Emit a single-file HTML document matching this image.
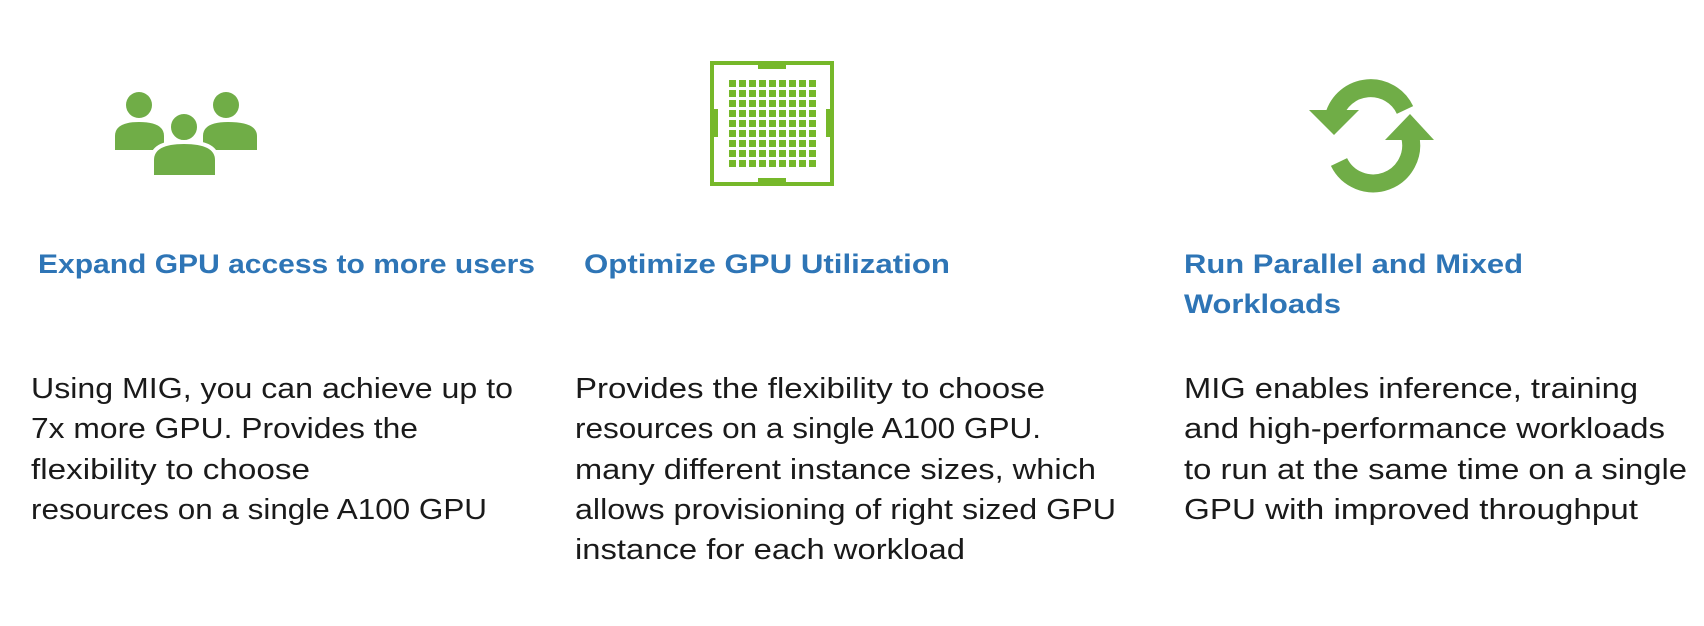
<!DOCTYPE html>
<html><head><meta charset="utf-8"><style>
html,body{margin:0;padding:0;background:#fff;}
svg{display:block}
.h{font-family:"Liberation Sans",sans-serif;font-weight:bold;font-size:27px;fill:#2e75b6}
.b{font-family:"Liberation Sans",sans-serif;font-size:29px;fill:#1a1a1a}
</style></head><body>
<svg width="1704" height="626" viewBox="0 0 1704 626" xmlns="http://www.w3.org/2000/svg">
<rect width="1704" height="626" fill="#fff"/>
<g fill="#70ad47">
<circle cx="139" cy="105" r="13"/>
<path d="M115 150 V136 Q115 122 139 122 Q164 122 164 136 V150 Z"/>
<circle cx="226" cy="105" r="13"/>
<path d="M203 150 V136 Q203 122 228 122 Q257 122 257 136 V150 Z"/>
<circle cx="184" cy="127" r="15" stroke="#fff" stroke-width="4"/>
<path d="M152 177 V160 Q152 142 184 142 Q217 142 217 160 V177 Z" stroke="#fff" stroke-width="4"/>
</g>
<g fill="#76b82a">
<rect x="712" y="63" width="120" height="121" fill="none" stroke="#76b82a" stroke-width="4"/>
<rect x="758" y="61" width="28" height="8"/>
<rect x="758" y="178" width="28" height="8"/>
<rect x="710" y="109" width="8" height="28"/>
<rect x="826" y="109" width="8" height="28"/>
<g id="row">
<rect x="729" y="80" width="7" height="7"/><rect x="739" y="80" width="7" height="7"/><rect x="749" y="80" width="7" height="7"/><rect x="759" y="80" width="7" height="7"/><rect x="769" y="80" width="7" height="7"/><rect x="779" y="80" width="7" height="7"/><rect x="789" y="80" width="7" height="7"/><rect x="799" y="80" width="7" height="7"/><rect x="809" y="80" width="7" height="7"/>
</g>
<use href="#row" y="10"/><use href="#row" y="20"/><use href="#row" y="30"/><use href="#row" y="40"/><use href="#row" y="50"/><use href="#row" y="60"/><use href="#row" y="70"/><use href="#row" y="80"/>
</g>
<g fill="#70ad47">
<path d="M1334 116 A38 38 0 0 1 1405 110" fill="none" stroke="#70ad47" stroke-width="18"/>
<polygon points="1309,110 1359,110 1334,135"/>
<path d="M1410 136 A38 38 0 0 1 1339 162" fill="none" stroke="#70ad47" stroke-width="18"/>
<polygon points="1385,140 1434,140 1410,114"/>
</g>
<text class="h" x="38" y="273" textLength="497" lengthAdjust="spacingAndGlyphs">Expand GPU access to more users</text>
<text class="h" x="584" y="273" textLength="366" lengthAdjust="spacingAndGlyphs">Optimize GPU Utilization</text>
<text class="h" x="1184" y="273" textLength="339" lengthAdjust="spacingAndGlyphs">Run Parallel and Mixed</text>
<text class="h" x="1184" y="313" textLength="157" lengthAdjust="spacingAndGlyphs">Workloads</text>
<text class="b" x="31" y="398" textLength="482" lengthAdjust="spacingAndGlyphs">Using MIG, you can achieve up to</text>
<text class="b" x="31" y="438" textLength="387" lengthAdjust="spacingAndGlyphs">7x more GPU. Provides the</text>
<text class="b" x="31" y="479" textLength="279" lengthAdjust="spacingAndGlyphs">flexibility to choose</text>
<text class="b" x="31" y="519" textLength="456" lengthAdjust="spacingAndGlyphs">resources on a single A100 GPU</text>
<text class="b" x="575" y="398" textLength="470" lengthAdjust="spacingAndGlyphs">Provides the flexibility to choose</text>
<text class="b" x="575" y="438" textLength="466" lengthAdjust="spacingAndGlyphs">resources on a single A100 GPU.</text>
<text class="b" x="575" y="479" textLength="521" lengthAdjust="spacingAndGlyphs">many different instance sizes, which</text>
<text class="b" x="575" y="519" textLength="541" lengthAdjust="spacingAndGlyphs">allows provisioning of right sized GPU</text>
<text class="b" x="575" y="559" textLength="390" lengthAdjust="spacingAndGlyphs">instance for each workload</text>
<text class="b" x="1184" y="398" textLength="454" lengthAdjust="spacingAndGlyphs">MIG enables inference, training</text>
<text class="b" x="1184" y="438" textLength="481" lengthAdjust="spacingAndGlyphs">and high-performance workloads</text>
<text class="b" x="1184" y="479" textLength="503" lengthAdjust="spacingAndGlyphs">to run at the same time on a single</text>
<text class="b" x="1184" y="519" textLength="454" lengthAdjust="spacingAndGlyphs">GPU with improved throughput</text>
</svg>
</body></html>
